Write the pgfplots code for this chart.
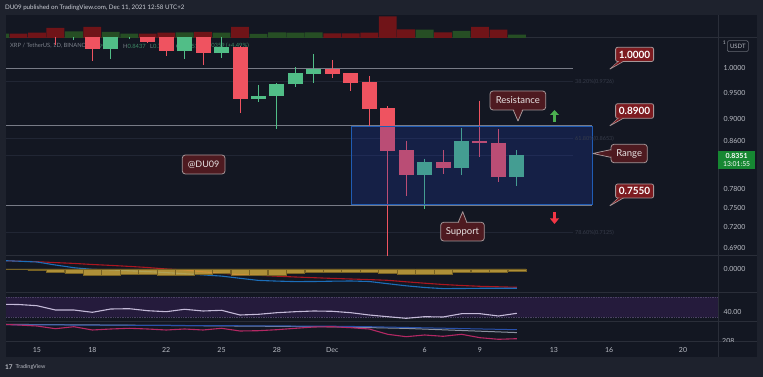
\documentclass[border=0pt]{standalone}
\usepackage{pgfplots}
\pgfplotsset{compat=1.18}
\usepackage{fontspec}
\setmainfont{Lato}
\definecolor{outerbg}{RGB}{30,34,45}
\definecolor{panebg}{RGB}{19,23,34}
\definecolor{sepc}{RGB}{42,46,57}
\definecolor{txtc}{RGB}{185,188,196}
\definecolor{hdrc}{RGB}{205,208,216}
\definecolor{upc}{RGB}{81,190,135}
\definecolor{dnc}{RGB}{239,83,96}
\definecolor{volup}{RGB}{38,78,36}
\definecolor{voldn}{RGB}{112,20,24}
\definecolor{levelc}{RGB}{120,123,134}
\definecolor{fibc}{RGB}{33,38,52}
\definecolor{fibt}{RGB}{55,60,74}
\definecolor{boxfill}{RGB}{30,60,180}
\definecolor{boxdraw}{RGB}{32,92,180}
\definecolor{callfill}{RGB}{78,26,32}
\definecolor{pricefill}{RGB}{125,27,32}
\definecolor{callborder}{RGB}{165,150,152}
\definecolor{calltext}{RGB}{232,228,228}
\definecolor{macdred}{RGB}{170,22,32}
\definecolor{macdblue}{RGB}{28,110,185}
\definecolor{histc}{RGB}{215,175,62}
\definecolor{histd}{RGB}{120,98,36}
\definecolor{rsiband}{RGB}{37,27,60}
\definecolor{rsidot}{RGB}{75,65,100}
\definecolor{rsiline}{RGB}{196,186,216}
\definecolor{bgray}{RGB}{140,146,160}
\definecolor{bblue}{RGB}{40,80,170}
\definecolor{bmag}{RGB}{180,40,100}
\definecolor{tagc}{RGB}{22,135,50}
\definecolor{arrup}{RGB}{76,175,80}
\definecolor{arrdn}{RGB}{242,54,69}
\definecolor{legg}{RGB}{125,130,140}
\definecolor{legv}{RGB}{62,140,102}
\pgfplotsset{
  tvpane/.style={
    scale only axis, width=712pt, xmin=-17.676, xmax=20.894,
    anchor=south west,
    axis line style={draw=none}, tick style={draw=none},
    xtick=\empty, ytick=\empty,
    /pgf/number format/assume math mode=true,
    tick label style={font=\fontsize{7}{8}\selectfont, text=txtc},
    yticklabel pos=right,
    yticklabel style={anchor=west, xshift=2pt},
    unbounded coords=jump,
  }
}
\begin{document}
\begin{tikzpicture}
% backgrounds
\fill[outerbg] (0pt,0pt) rectangle (763pt,377pt);
\fill[panebg] (6pt,20pt) rectangle (757pt,362pt);
\draw[sepc, line width=1pt] (718pt,20pt) -- (718pt,362pt);
\foreach \yy in {339,121,84,55,35} {\draw[sepc, line width=1pt] (6pt,\yy pt) -- (757pt,\yy pt);}
% legend line (under candles)
\begin{scope}[every node/.style={anchor=west, inner sep=0pt, font=\fontsize{5.8}{6}\selectfont, text=legg}]
\node at (10pt,331pt) {XRP / TetherUS, 1D, BINANCE};
\node at (86pt,331pt) {O\textcolor{legv}{0.7992}};
\node at (123pt,331pt) {H\textcolor{legv}{0.8437}};
\node at (150pt,331pt) {L\textcolor{legv}{0.7844}};
\node at (176pt,331pt) {C\textcolor{legv}{0.8351}};
\node at (203pt,331pt) {\textcolor{legv}{+0.0359 (+4.49\%)}};
\end{scope}

% volume pane
\begin{axis}[tvpane, at={(6pt,339pt)}, height=23pt, ymin=0, ymax=23]
\addplot[ybar, bar width=17.8pt, bar shift=0pt, fill=voldn, draw=none] coordinates {
(-17,4.4)(-16,5.4)(-15,10)(-13,11)(-10,4.4)(-9,5.4)(-7,6)(-5,11)(0,4.7)(1,4.7)(2,5.4)(3,21.7)(4,8.7)(6,5.7)(8,11)(9,8.4)};
\addplot[ybar, bar width=17.8pt, bar shift=0pt, fill=volup, draw=none] coordinates {
(-18,4.4)(-14,6.7)(-12,6)(-11,4.4)(-8,5.7)(-6,5.4)(-4,4)(-3,5.7)(-2,5.4)(-1,5.7)(5,8.4)(7,7)(10,3.4)};
\end{axis}

% main price pane
\begin{axis}[tvpane, at={(6pt,121pt)}, height=218pt, ymode=log, ymin=0.6787, ymax=1.0638,
  ytick={0.69,0.72,0.75,0.78,0.86,0.9,0.95,1.0},
  yticklabels={0.6900,0.7200,0.7500,0.7800,0.8600,0.9000,0.9500,1.0000}]
% faint fib and price lines
\addplot[fibc, line width=0.8pt] coordinates {(-17.676,0.9726)(13.04,0.9726)};
\addplot[fibc, line width=0.8pt] coordinates {(-17.676,0.8653)(13.04,0.8653)};
\addplot[fibc, line width=0.8pt] coordinates {(-17.676,0.8351)(13.04,0.8351)};
\addplot[fibc, line width=0.8pt] coordinates {(-17.676,0.7125)(13.04,0.7125)};
% level lines
\addplot[levelc, line width=0.9pt] coordinates {(-17.676,1.0)(13.04,1.0)};
\addplot[levelc, line width=0.9pt] coordinates {(-17.676,0.889)(14.068,0.889)};
\addplot[levelc, line width=0.9pt] coordinates {(-17.676,0.7535)(14.068,0.7535)};
% wicks
\addplot[dnc, line width=1pt] coordinates {
(-15,1.14)(-15,1.049)(-15,nan)
(-13,1.10)(-13,1.015)(-13,nan)
(-10,1.10)(-10,1.052)(-10,nan)
(-9,1.085)(-9,1.025)(-9,nan)
(-7,1.08)(-7,1.0062)(-7,nan)
(-5,1.046)(-5,0.9108)(-5,nan)
(0,1.0166)(0,0.979)(0,nan)
(1,0.99)(1,0.9537)(1,nan)
(2,0.9836)(2,0.886)(2,nan)
(3,0.9246)(3,0.62)(3,nan)
(4,0.8608)(4,0.768)(4,nan)
(6,0.8444)(6,0.8042)(6,nan)
(8,0.9348)(8,0.8318)(8,nan)
(9,0.8813)(9,0.791)};
\addplot[upc, line width=1pt] coordinates {
(-14,1.12)(-14,1.059)(-14,nan)
(-12,1.09)(-12,1.0181)(-12,nan)
(-11,1.11)(-11,1.062)(-11,nan)
(-8,1.085)(-8,1.018)(-8,nan)
(-6,1.0653)(-6,1.0208)(-6,nan)
(-4,0.9656)(-4,0.9329)(-4,nan)
(-3,0.969)(-3,0.8813)(-3,nan)
(-2,1.0021)(-2,0.9622)(-2,nan)
(-1,1.0293)(-1,0.9689)(-1,nan)
(5,0.8294)(5,0.7482)(5,nan)
(7,0.8842)(7,0.8025)(7,nan)
(10,0.8437)(10,0.7844)};
% bodies
\addplot[dnc, line width=15pt] coordinates {
(-15,1.12)(-15,1.08)(-15,nan)
(-13,1.09)(-13,1.039)(-13,nan)
(-10,1.09)(-10,1.0557)(-10,nan)
(-9,1.075)(-9,1.035)(-9,nan)
(-7,1.07)(-7,1.0314)(-7,nan)
(-5,1.0436)(-5,0.9375)(-5,nan)
(0,0.9979)(0,0.9883)(0,nan)
(1,0.9897)(1,0.9701)(1,nan)
(2,0.9710)(2,0.9195)(2,nan)
(3,0.9203)(3,0.8432)(3,nan)
(4,0.8439)(4,0.8025)(4,nan)
(6,0.8243)(6,0.8142)(6,nan)
(8,0.8608)(8,0.8567)(8,nan)
(9,0.8573)(9,0.7992)};
\addplot[upc, line width=15pt] coordinates {
(-14,1.08)(-14,1.10)(-14,nan)
(-12,1.039)(-12,1.075)(-12,nan)
(-11,1.075)(-11,1.10)(-11,nan)
(-8,1.035)(-8,1.07)(-8,nan)
(-6,1.0308)(-6,1.0436)(-6,nan)
(-4,0.9375)(-4,0.9439)(-4,nan)
(-3,0.9439)(-3,0.9681)(-3,nan)
(-2,0.9675)(-2,0.9897)(-2,nan)
(-1,0.9883)(-1,0.9979)(-1,nan)
(5,0.8025)(5,0.8238)(5,nan)
(7,0.8142)(7,0.8608)(7,nan)
(10,0.7992)(10,0.8351)};
% range box
\addplot[draw=boxdraw, fill=boxfill, fill opacity=0.25, line width=0.9pt] coordinates {
(1.013,0.886)(14.068,0.886)(14.068,0.7555)(1.013,0.7555)} -- cycle;
\end{axis}

% MACD pane
\begin{axis}[tvpane, at={(6pt,84pt)}, height=37pt, ymin=-24, ymax=13, ytick={0}, yticklabels={0.0000}]
\addplot[macdred, line width=1.1pt] coordinates {
(-18,8.5)(-17,7.8)(-16,7.3)(-15,6.4)(-14,5.6)(-13,4.5)(-12,3.6)(-11,2.6)(-10,1.5)(-9,0)(-8,-1)(-7,-2.8)(-6,-4.3)(-5,-5.6)(-4,-6.3)(-3,-7.2)(-2,-8)(-1,-8.7)(0,-9.4)(1,-10)(2,-10.6)(3,-11.3)(4,-12.8)(5,-14.2)(6,-15.5)(7,-16.5)(8,-17.3)(9,-17.8)(10,-18.3)};
\addplot[macdblue, line width=1.1pt] coordinates {
(-18,8.5)(-17,7.8)(-16,7)(-15,4)(-14,1.3)(-13,-0.4)(-12,-1)(-11,-1.8)(-10,-2.6)(-9,-3.6)(-8,-4.7)(-7,-5.9)(-6,-7.1)(-5,-9.3)(-4,-11.4)(-3,-12.1)(-2,-12.6)(-1,-12.5)(0,-12.2)(1,-12)(2,-12.5)(3,-14.7)(4,-16.8)(5,-18.5)(6,-19.6)(7,-19.5)(8,-19.3)(9,-19.3)(10,-19.3)};
\addplot[ybar, bar width=18.2pt, bar shift=0pt, fill=histc, fill opacity=0.8, draw=histd, line width=0.4pt] coordinates {
(-18,-0.7)(-17,-0.7)(-16,-1.7)(-15,-3.7)(-14,-4.7)(-13,-6)(-12,-6)(-11,-5.3)(-10,-5.3)(-9,-6)(-8,-6)(-7,-5.3)(-6,-4.7)(-5,-6)(-4,-6)(-3,-6)(-2,-4.7)(-1,-3.7)(0,-3)(1,-3)(2,-3)(3,-4)(4,-5.7)(5,-5.7)(6,-5)(7,-3)(8,-3)(9,-3)(10,-2.3)};
\end{axis}

% RSI pane
\begin{axis}[tvpane, at={(6pt,55pt)}, height=29pt, ymin=20, ymax=78, ytick={40}, yticklabels={40.00}]
\addplot[fill=rsiband, draw=none] coordinates {(-17.676,30)(20.894,30)(20.894,70)(-17.676,70)} -- cycle;
\addplot[rsidot, densely dotted, line width=0.7pt] coordinates {(-17.676,70)(20.894,70)};
\addplot[rsidot, densely dotted, line width=0.7pt] coordinates {(-17.676,30)(20.894,30)};
\addplot[rsiline, line width=1.1pt] coordinates {
(-18,55.4)(-17,55)(-16,52.6)(-15,44)(-14,44)(-13,39.4)(-12,46)(-11,46.6)(-10,42.6)(-9,40.6)(-8,45.4)(-7,42)(-6,43.4)(-5,34)(-4,35.4)(-3,38.6)(-2,40.6)(-1,42)(0,41.4)(1,38.6)(2,34)(3,30.6)(4,27.4)(5,30.6)(6,30)(7,36.6)(8,36.6)(9,32)(10,37.4)};
\end{axis}

% bottom pane with date axis
\begin{axis}[tvpane, at={(6pt,35pt)}, height=20pt, ymin=0, ymax=20,
  xtick={-16,-13,-9,-6,-3,0,5,8,12,15,19},
  xticklabels={15,18,22,25,28,Dec,6,9,13,16,20},
  xticklabel style={yshift=-2pt}]
\addplot[bgray, line width=1pt] coordinates {(-18,17.7)(-8,16.4)(0,15.2)(4,13.6)(7,11.5)(10,9.4)};
\addplot[bblue, line width=1pt] coordinates {(-18,17.3)(-8,16.5)(0,15.8)(2,15.3)(6,13.8)(10,12.3)};
\addplot[bmag, line width=1.1pt] coordinates {
(-18,17.7)(-17,17)(-16,16)(-15,13.3)(-14,15.3)(-13,12)(-12,13)(-11,13.7)(-10,13)(-9,12)(-8,13)(-7,12)(-6,13.7)(-5,11)(-4,11.3)(-3,12.3)(-2,13.7)(-1,15)(0,15.3)(1,14.3)(2,13)(3,7.7)(4,5.3)(5,7)(6,5.7)(7,7.7)(8,4.3)(9,2.7)(10,3.3)};
\end{axis}
\begin{scope}
\clip (718pt,35pt) rectangle (757pt,55pt);
\node[anchor=west, inner sep=0pt, font=\fontsize{7}{8}\selectfont, text=txtc] at (722pt,36.5pt) {208};
\end{scope}

% faint fib labels
\begin{scope}[every node/.style={anchor=west, inner sep=0pt, font=\fontsize{5.5}{6}\selectfont, text=fibt}]
\node at (575pt,295.3pt) {38.20\%(0.9726)};
\node at (575pt,238pt) {61.80\%(0.8653)};
\node at (575pt,144pt) {78.60\%(0.7125)};
\end{scope}

% callouts
\tikzset{cb/.style={fill=callfill, draw=callborder, line width=0.8pt, line join=round},
         pb/.style={fill=pricefill, draw=callborder, line width=0.8pt, line join=round}}
% @DU09
\filldraw[cb, rounded corners=3pt] (182.3pt,203pt) rectangle (225pt,222pt);
\node[text=calltext, font=\fontsize{9}{10}\selectfont] at (203.65pt,212.5pt) {@DU09};
% Resistance
\filldraw[cb] (513pt,267.6pt) -- (518pt,256pt) -- (523pt,267.6pt);
\filldraw[cb, rounded corners=3pt] (490pt,267pt) rectangle (545.7pt,286pt);
\fill[callfill] (513.9pt,267.8pt) -- (518pt,259pt) -- (522.1pt,267.8pt) -- cycle;
\node[text=calltext, font=\fontsize{9.5}{10}\selectfont] at (517.85pt,276.5pt) {Resistance};
% Support
\filldraw[cb] (458pt,154.1pt) -- (462.7pt,165.3pt) -- (467pt,154.1pt);
\filldraw[cb, rounded corners=3pt] (440.7pt,136pt) rectangle (484.3pt,154.7pt);
\fill[callfill] (458.9pt,153.9pt) -- (462.7pt,162.5pt) -- (466.1pt,153.9pt) -- cycle;
\node[text=calltext, font=\fontsize{9.5}{10}\selectfont] at (462.5pt,145.35pt) {Support};
% Range
\filldraw[cb] (611.5pt,227.5pt) -- (593pt,223.5pt) -- (611.5pt,219.5pt);
\filldraw[cb, rounded corners=3pt] (611pt,214.3pt) rectangle (647.3pt,232.7pt);
\fill[callfill] (611.9pt,226.6pt) -- (596pt,223.5pt) -- (611.9pt,220.4pt) -- cycle;
\node[text=calltext, font=\fontsize{9.5}{10}\selectfont] at (629.15pt,223.5pt) {Range};
% price callouts
\foreach \yb/\yt/\ytip/\lab in {315.5/329.7/308/1.0000, 258.7/273.3/251.3/0.8900, 179/193/171.3/0.7550} {
  \filldraw[pb] (619pt,\yb pt+0.5pt) -- (610pt,\ytip pt) -- (624pt,\yb pt+0.5pt);
  \filldraw[pb, rounded corners=2pt] (615.6pt,\yb pt) rectangle (653.6pt,\yt pt);
  \fill[pricefill] (619.7pt,\yb pt+0.7pt) -- (612pt,\ytip pt+1.8pt) -- (623.3pt,\yb pt+0.7pt) -- cycle;
  \node[text=white, font=\bfseries\fontsize{10}{10}\selectfont] at (634.6pt,{(\yb+\yt)/2*1pt}) {\lab};
}
% arrows
\fill[arrup] (550pt,262pt) -- (554.5pt,267pt) -- (559pt,262pt) -- cycle;
\fill[arrup] (552.6pt,255.3pt) rectangle (556.4pt,262.2pt);
\fill[arrdn] (552.6pt,165.3pt) rectangle (556.4pt,158.3pt);
\fill[arrdn] (550pt,158.5pt) -- (554.5pt,153pt) -- (559pt,158.5pt) -- cycle;
% price tag
\fill[tagc] (718pt,208.3pt) rectangle (755.3pt,226.3pt);
\node[text=white, font=\bfseries\fontsize{7}{8}\selectfont] at (736.6pt,221pt) {0.8351};
\node[text=white, font=\fontsize{6.8}{8}\selectfont] at (736.6pt,212.6pt) {13:01:55};
% USDT
\node[text=txtc, font=\fontsize{5}{6}\selectfont, inner sep=0pt] at (724.3pt,334pt) {1};
\draw[sepc!60!txtc, line width=0.6pt, rounded corners=1.5pt] (727.3pt,325.3pt) rectangle (748.3pt,336.3pt);
\node[text=txtc, font=\fontsize{6}{7}\selectfont, inner sep=0pt] at (737.8pt,330.8pt) {USDT};
% header and footer
\node[anchor=west, inner sep=0pt, text=hdrc, font=\fontsize{6.2}{7}\selectfont] at (5pt,369pt) {DU09 published on TradingView.com, Dec 11, 2021 12:58 UTC+2};
\node[anchor=west, inner sep=0pt, text=txtc, font=\bfseries\fontsize{6.5}{7}\selectfont] at (5pt,10pt) {17};
\node[anchor=west, inner sep=0pt, text=txtc, font=\fontsize{5.5}{6}\selectfont] at (15.5pt,10pt) {TradingView};
\end{tikzpicture}
\end{document}
